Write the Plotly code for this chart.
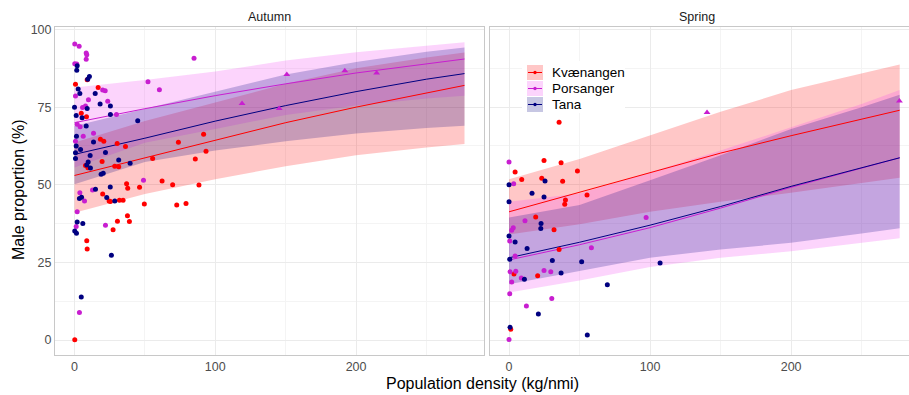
import plotly.graph_objects as go

# ---------------- data ----------------
groups = ["Kvænangen", "Porsanger", "Tana"]
line_colors = {"Kvænangen": "#FF0000", "Porsanger": "#C81ED0", "Tana": "#000080"}
fill_colors = {"Kvænangen": "rgba(255,0,0,0.22)", "Porsanger": "rgba(240,60,240,0.22)",
               "Tana": "rgba(0,0,128,0.22)"}

grid_x = [0, 50, 100, 150, 200, 250, 277]

# Autumn model fits
aut_mean = {
    "Kvænangen": [53, 58.6, 64.4, 70, 75, 79.5, 82],
    "Porsanger": [70, 74.5, 78.7, 82.5, 86, 89, 90.5],
    "Tana": [59.8, 65, 70.5, 75.5, 80, 84, 85.8],
}
aut_lo = {
    "Kvænangen": [41, 47, 51.8, 56, 59.5, 62, 63.1],
    "Porsanger": [55.6, 63.5, 68, 72.5, 75.5, 77.8, 78.7],
    "Tana": [50.2, 57.3, 61, 64, 66.5, 68.3, 69],
}
aut_hi = {
    "Kvænangen": [63.6, 70.5, 76.5, 82.5, 87.5, 91, 92.6],
    "Porsanger": [81.3, 83.7, 86.5, 90, 92.7, 94.8, 95.9],
    "Tana": [68.9, 74.5, 80, 85.5, 89.5, 92.8, 94.2],
}
# Spring model fits
spr_mean = {
    "Kvænangen": [41.3, 47.6, 54, 60.2, 65.8, 71, 74],
    "Porsanger": [25.8, 30.7, 36.2, 42.5, 49.2, 55.3, 58.7],
    "Tana": [26.5, 31.5, 37, 43, 49.5, 55.5, 58.7],
}
spr_lo = {
    "Kvænangen": [34, 37.3, 41.3, 44.5, 47.4, 50.5, 52.3],
    "Porsanger": [15.3, 19.2, 23.5, 26.5, 28.6, 31.4, 32.8],
    "Tana": [18, 22.3, 26.5, 29.2, 31.3, 34.3, 36],
}
spr_hi = {
    "Kvænangen": [51.8, 58.3, 66, 73.5, 80.5, 85.8, 88.7],
    "Porsanger": [44.5, 47.2, 54, 61, 68.5, 76, 80.5],
    "Tana": [39.5, 43.5, 51.5, 59.5, 68, 75, 79],
}

# Observations: autumn
aut_kv_x = [0.7, 9, 16.8, 4.8, 8.5, 18.4, 20.8, 30.3, 36.2, 7.8, 9.5, 19.6, 28.6, 31.4, 37, 37.8,
            46.2, 20, 24.6, 25.5, 31.9, 34.5, 49.6, 27.4, 30.5, 37.6, 39, 8.7, 9, 0.2,
            91.7, 73.8, 93.4, 85.8, 55.5, 62.2, 69.7, 88.4, 72.6, 79.2]
aut_kv_y = [82.4, 83.8, 81.3, 73, 71.9, 64.7, 64, 63.3, 62.3, 56.2, 55.5, 57.5, 56, 55.8, 50.3, 48.9,
            49.2, 47, 44.8, 44.6, 45, 45, 43.8, 35.5, 38.3, 40, 38.2, 32, 29.3, 0.1,
            66.3, 63.7, 60.8, 58.3, 58.5, 51.2, 50, 49.9, 43.5, 44]
aut_po_x = [0.2, 3.3, 8.3, 8.7, 8.3, 0.2, 1.6, 0.7, 20, 21.8, 23.6, 9.9, 5.7, 7.8, 1.9, 4, 13.5,
            6.2, 0.7, 52.2, 60.3, 84.9, 29.8, 49, 12.8, 3.8, 7.1, 1.9, 1.2, 22, 3.5]
aut_po_y = [95.3, 94.6, 92.4, 91.9, 90.4, 89, 88.9, 78.6, 80.5, 80.3, 76.9, 77.4, 74.9, 75.4, 69.5,
            68.7, 66.6, 65.6, 64, 83.2, 80.6, 90.7, 72.6, 51.5, 48.3, 47.4, 44.8, 41.3, 36.6, 37, 8.9]
aut_po_tri_x = [119, 145.4, 150.8, 192, 214.6]
aut_po_tri_y = [76.2, 74.6, 85.5, 86.7, 86]
aut_ta_x = [1.9, 1.6, 10.6, 9.4, 2.6, 3.8, 14.7, 0, 1.2, 9, 18.2, 25.5, 5.4, 25.5, 8.3, 44.9, 1.4,
            13.5, 1.2, 4.3, 0.7, 11.1, 0.7, 22, 31.4, 39.5, 9.7, 8.7, 11.3, 18.9, 20.4, 25.4, 14.9,
            5, 3.5, 22.9, 28.6, 1.9, 5.9, 0.2, 1.4, 26.2, 4.8]
aut_ta_y = [88.3, 86.9, 84.9, 84, 80.8, 79.4, 79.4, 75, 72.3, 74.6, 76, 75.4, 71.6, 72.6, 68.9, 70.6,
            65.6, 63.8, 62.5, 61.4, 60.3, 59.4, 58.5, 60.4, 58, 56.9, 57.3, 56.4, 55.4, 53.4, 53.7,
            49.3, 48.6, 46, 45.6, 45.9, 44.8, 38, 37.5, 35.1, 34.4, 27.3, 13.9]

# Observations: spring
spr_kv_x = [35.5, 24.8, 36.9, 4.3, 48.5, 9, 23.2, 38, 55.3, 40, 39.5, 18.9, 31.9, 35.5, 3.5, 20.3, 1.2]
spr_kv_y = [70.1, 57.8, 57.1, 54.1, 54.4, 51.7, 52.1, 51.1, 46.7, 45.1, 43.7, 39.6, 35.5, 29.2, 21.3,
            20.7, 3.5]
spr_po_x = [0, 3.3, 11.3, 3, 1.9, 0.5, 58.4, 4.3, 0.7, 4.8, 8.7, 24.8, 29.6, 1.9, 0.5, 30.3, 12.3,
            0, 97.2]
spr_po_y = [57.3, 50.3, 38.4, 36.2, 35.4, 31.9, 29.7, 27.1, 22, 22.2, 20, 22.4, 22, 18.7, 14.9, 13.4,
            11, 0.2, 39.5]
spr_po_tri_x = [140.4, 276.8]
spr_po_tri_y = [73.3, 77]
spr_ta_x = [0, 25.5, 16.3, 24.8, 0, 22.7, 22.5, 0, 4.3, 12.8, 0.5, 30.7, 51.5, 10.9, 36.9, 20.8, 0.7,
            55.5, 107.1, 69.7]
spr_ta_y = [50, 51.2, 47.3, 46.1, 44.5, 37.5, 35.9, 33.5, 31.6, 29.5, 26, 25.6, 25.2, 19.6, 21.6, 8.4,
            4.1, 1.6, 24.8, 17.8]

x_ticks = [0, 100, 200]
y_ticks = [0, 25, 50, 75, 100]

# ---------------- figure ----------------
W, H = 909, 395
fig = go.Figure()

panels = [
    ("x", "y", aut_mean, aut_lo, aut_hi,
     {"Kvænangen": (aut_kv_x, aut_kv_y), "Porsanger": (aut_po_x, aut_po_y), "Tana": (aut_ta_x, aut_ta_y)},
     (aut_po_tri_x, aut_po_tri_y)),
    ("x2", "y2", spr_mean, spr_lo, spr_hi,
     {"Kvænangen": (spr_kv_x, spr_kv_y), "Porsanger": (spr_po_x, spr_po_y), "Tana": (spr_ta_x, spr_ta_y)},
     (spr_po_tri_x, spr_po_tri_y)),
]

for xa, ya, mean, lo, hi, obs, tri in panels:
    for g in groups:
        fig.add_trace(go.Scatter(
            x=grid_x + grid_x[::-1], y=lo[g] + hi[g][::-1], xaxis=xa, yaxis=ya,
            fill="toself", fillcolor=fill_colors[g], line=dict(width=0),
            mode="lines", showlegend=False, hoverinfo="skip"))
    for g in groups:
        fig.add_trace(go.Scatter(
            x=grid_x, y=mean[g], xaxis=xa, yaxis=ya, mode="lines",
            line=dict(color=line_colors[g], width=1),
            showlegend=False))
    for g in groups:
        ox, oy = obs[g]
        fig.add_trace(go.Scatter(
            x=ox, y=oy, xaxis=xa, yaxis=ya, mode="markers",
            marker=dict(color=line_colors[g], size=5, line=dict(width=0)),
            showlegend=False))
    fig.add_trace(go.Scatter(
        x=tri[0], y=tri[1], xaxis=xa, yaxis=ya, mode="markers",
        marker=dict(color=line_colors["Porsanger"], size=6, symbol="triangle-up", line=dict(width=0)),
        showlegend=False))


def px2x(p):
    return p / W


def px2y(p):
    return 1 - p / H


ydom = [px2y(355), px2y(27)]
tickfont = dict(family="Arial, Liberation Sans, sans-serif", size=12.5, color="#4D4D4D")
axis_common = dict(showgrid=True, gridcolor="#EBEBEB", gridwidth=1, zeroline=False,
                   showline=True, mirror=True, linecolor="#C8C8C8", linewidth=1,
                   ticks="", tickfont=tickfont)
xminor = dict(tickvals=[50, 150, 250], showgrid=True, gridcolor="#F4F4F4", gridwidth=1)
yminor = dict(tickvals=[12.5, 37.5, 62.5, 87.5], showgrid=True, gridcolor="#F4F4F4", gridwidth=1)

fig.update_layout(
    width=W, height=H, margin=dict(l=0, r=0, t=0, b=0, autoexpand=False),
    paper_bgcolor="white", plot_bgcolor="white", showlegend=False,
    xaxis=dict(domain=[px2x(55), px2x(484)], range=[-13.85, 290.85], tickvals=x_ticks,
               minor=xminor, anchor="y", **axis_common),
    xaxis2=dict(domain=[px2x(489.5), 1.0], range=[-13.85, 283.6], tickvals=x_ticks,
                minor=xminor, anchor="y2", **axis_common),
    yaxis=dict(domain=ydom, range=[-4.8, 100.8], tickvals=y_ticks, minor=yminor,
               anchor="x", **axis_common),
    yaxis2=dict(domain=ydom, range=[-4.8, 100.8], tickvals=y_ticks, showticklabels=False,
                minor=yminor, anchor="x2", **axis_common),
)

font_main = "Arial, Liberation Sans, sans-serif"


def label(text, x, y, size, color="#000000", angle=0, xanchor="center"):
    return dict(text=text, x=px2x(x), y=px2y(y), xref="paper", yref="paper", showarrow=False,
                xanchor=xanchor, yanchor="middle", textangle=angle,
                font=dict(family=font_main, size=size, color=color))


ann = [
    label("Autumn", 269.5, 17, 12.5, "#1A1A1A"),
    label("Spring", 697, 17, 12.5, "#1A1A1A"),
    label("Population density (kg/nmi)", 482, 383, 16),
    label("Male proportion (%)", 18, 190, 16, angle=-90),
]

# manual legend (ggplot style: filled key box with line + point)
shapes = [dict(type="rect", xref="paper", yref="paper", x0=px2x(522), x1=px2x(625),
               y0=px2y(113), y1=px2y(61), fillcolor="white", line=dict(width=0), layer="above")]
key_tops = [65, 81, 97]
for g, top in zip(groups, key_tops):
    shapes.append(dict(type="rect", xref="paper", yref="paper", x0=px2x(527), x1=px2x(543),
                       y0=px2y(top + 15), y1=px2y(top), fillcolor=fill_colors[g],
                       line=dict(width=0), layer="above"))
    cy = top + 7.5
    shapes.append(dict(type="line", xref="paper", yref="paper", x0=px2x(528), x1=px2x(542),
                       y0=px2y(cy), y1=px2y(cy), line=dict(color=line_colors[g], width=1),
                       layer="above"))
    shapes.append(dict(type="circle", xref="paper", yref="paper", x0=px2x(533.3), x1=px2x(536.7),
                       y0=px2y(cy + 1.7), y1=px2y(cy - 1.7), fillcolor=line_colors[g],
                       line=dict(width=0), layer="above"))
    ann.append(label(g, 550, cy, 13.5, xanchor="left"))

fig.update_layout(annotations=ann, shapes=shapes)
fig.write_html("out.html", config={"displayModeBar": False},
               post_script="document.body.style.margin='0px';")
